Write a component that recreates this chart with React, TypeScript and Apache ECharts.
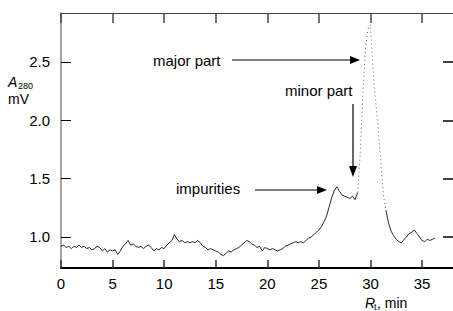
import React, { useEffect, useRef } from "react";
import * as echarts from "echarts";

// Retention time sampling (min): start and step of the recorded trace
const rtStart = 0;
const rtStep = 0.25;

// A280 (mV), one value per 0.25 min from 0 to 36.25 min
const absorbance: number[] = [
  0.92, 0.93, 0.91, 0.92, 0.90, 0.92, 0.91, 0.93, 0.91, 0.92, // 0 - 2.25
  0.90, 0.91, 0.89, 0.90, 0.92, 0.91, 0.88, 0.90, 0.87, 0.89, // 2.5 - 4.75
  0.88, 0.89, 0.85, 0.88, 0.92, 0.94, 0.97, 0.93, 0.94, 0.92, // 5 - 7.25
  0.91, 0.92, 0.90, 0.92, 0.93, 0.91, 0.88, 0.90, 0.89, 0.91, // 7.5 - 9.75
  0.90, 0.93, 0.95, 0.97, 1.02, 0.98, 0.96, 0.97, 0.95, 0.96, // 10 - 12.25
  0.95, 0.96, 0.95, 0.97, 0.95, 0.92, 0.91, 0.89, 0.90, 0.89, // 12.5 - 14.75
  0.88, 0.87, 0.85, 0.84, 0.86, 0.88, 0.87, 0.89, 0.90, 0.91, // 15 - 17.25
  0.93, 0.95, 0.97, 0.96, 0.94, 0.93, 0.91, 0.92, 0.88, 0.91, // 17.5 - 19.75
  0.90, 0.89, 0.90, 0.89, 0.88, 0.89, 0.90, 0.92, 0.93, 0.94, // 20 - 22.25
  0.95, 0.96, 0.95, 0.96, 0.95, 0.97, 0.99, 1.00, 1.02, 1.04, // 22.5 - 24.75
  1.06, 1.09, 1.13, 1.18, 1.26, 1.34, 1.40, 1.43, 1.39, 1.36, // 25 - 27.25
  1.35, 1.34, 1.33, 1.35, 1.32, 1.38, 1.70, 2.20, 2.60, 2.78, // 27.5 - 29.75
  2.82, 2.42, 2.17, 1.92, 1.65, 1.36, 1.23, 1.12, 1.05, 1.01, // 30 - 32.25
  0.98, 0.96, 0.95, 0.98, 1.00, 1.03, 1.04, 1.06, 1.03, 1.00, // 32.5 - 34.75
  0.97, 0.96, 0.98, 0.97, 0.98, 0.99,                         // 35 - 36.25
];

// Steep main-peak segment (drawn as a faint dotted trace in the original)
const peakFrom = 28.75;
const peakTo = 31.5;

const xTicks = [0, 5, 10, 15, 20, 25, 30, 35];
const yTicks = [1.0, 1.5, 2.0, 2.5];
const xMin = 0;
const xMax = 38;
const yMin = 0.734;
const yMax = 2.92;

const FONT = "'Liberation Sans', Arial, sans-serif";

export default function App() {
  const ref = useRef<HTMLDivElement>(null);

  useEffect(() => {
    if (!ref.current) return;
    const chart = echarts.init(ref.current, null, { renderer: "svg" });

    const points = absorbance.map((v, i) => [rtStart + i * rtStep, v]);
    const solidData = points.map((p) =>
      p[0] > peakFrom && p[0] < peakTo ? [p[0], null] : p
    );
    const dottedData = points.filter((p) => p[0] >= peakFrom && p[0] <= peakTo);

    const textStyle = (extra: any) => ({
      fontFamily: FONT,
      fill: "#000",
      ...extra,
    });

    chart.setOption({
      animation: false,
      backgroundColor: "#fff",
      grid: { left: 61, right: -4, top: 13, bottom: 43, containLabel: false },
      xAxis: [
        {
          type: "value",
          position: "bottom",
          min: xMin,
          max: xMax,
          axisLine: { show: true, lineStyle: { color: "#000", width: 2 } },
          axisTick: {
            show: true,
            inside: true,
            length: 8,
            customValues: xTicks,
            lineStyle: { color: "#333", width: 1.5 },
          },
          axisLabel: {
            show: true,
            customValues: xTicks,
            margin: 8,
            fontSize: 15,
            fontFamily: FONT,
            color: "#000",
          },
          splitLine: { show: false },
        },
        {
          type: "value",
          position: "top",
          min: xMin,
          max: xMax,
          axisLine: { show: true, onZero: false, lineStyle: { color: "#444", width: 1 } },
          axisTick: {
            show: true,
            inside: true,
            length: 10,
            customValues: xTicks,
            lineStyle: { color: "#444", width: 1.5 },
          },
          axisLabel: { show: false },
          splitLine: { show: false },
        },
      ],
      yAxis: [
        {
          type: "value",
          position: "left",
          min: yMin,
          max: yMax,
          axisLine: { show: true, onZero: false, lineStyle: { color: "#888", width: 1.5 } },
          axisTick: {
            show: true,
            inside: true,
            length: 10,
            customValues: yTicks,
            lineStyle: { color: "#000", width: 1 },
          },
          axisLabel: {
            show: true,
            customValues: yTicks,
            margin: 11,
            fontSize: 15,
            fontFamily: FONT,
            color: "#000",
            formatter: (v: number) => v.toFixed(1),
          },
          splitLine: { show: false },
        },
        {
          type: "value",
          position: "right",
          min: yMin,
          max: yMax,
          axisLine: { show: true, onZero: false, lineStyle: { color: "#444", width: 1 } },
          axisTick: {
            show: true,
            inside: true,
            length: 10,
            customValues: yTicks,
            lineStyle: { color: "#000", width: 1.5 },
          },
          axisLabel: { show: false },
          splitLine: { show: false },
        },
      ],
      series: [
        {
          type: "line",
          xAxisIndex: 0,
          yAxisIndex: 0,
          data: solidData,
          showSymbol: false,
          connectNulls: false,
          lineStyle: { color: "#111", width: 0.9 },
        },
        {
          type: "line",
          xAxisIndex: 0,
          yAxisIndex: 0,
          data: dottedData,
          showSymbol: false,
          lineStyle: { color: "#666", width: 1, type: [1, 3] },
        },
      ],
      graphic: [
        // y-axis title
        { type: "text", x: 8, y: 82, style: textStyle({ text: "A", fontSize: 14, fontStyle: "italic", verticalAlign: "middle" }) },
        { type: "text", x: 18, y: 86, style: textStyle({ text: "280", fontSize: 9, verticalAlign: "middle" }) },
        { type: "text", x: 8, y: 99, style: textStyle({ text: "mV", fontSize: 14, verticalAlign: "middle" }) },
        // x-axis title
        { type: "text", x: 365, y: 303, style: textStyle({ text: "R", fontSize: 14, fontStyle: "italic", verticalAlign: "middle" }) },
        { type: "text", x: 374, y: 307, style: textStyle({ text: "t", fontSize: 9, verticalAlign: "middle" }) },
        { type: "text", x: 377, y: 303, style: textStyle({ text: ", min", fontSize: 14, verticalAlign: "middle" }) },
        // major part annotation
        { type: "text", x: 153, y: 60, style: textStyle({ text: "major part", fontSize: 15, verticalAlign: "middle" }) },
        { type: "line", shape: { x1: 232, y1: 60, x2: 351, y2: 60 }, style: { stroke: "#000", lineWidth: 1.2 } },
        { type: "polygon", shape: { points: [[350, 56], [360, 60], [350, 64]] }, style: { fill: "#000" } },
        // minor part annotation
        { type: "text", x: 285, y: 90, style: textStyle({ text: "minor part", fontSize: 15, verticalAlign: "middle" }) },
        { type: "line", shape: { x1: 353, y1: 104, x2: 353, y2: 168 }, style: { stroke: "#000", lineWidth: 1.2 } },
        { type: "polygon", shape: { points: [[349, 166], [353, 177], [357, 166]] }, style: { fill: "#000" } },
        // impurities annotation
        { type: "text", x: 176, y: 188, style: textStyle({ text: "impurities", fontSize: 15, verticalAlign: "middle" }) },
        { type: "line", shape: { x1: 255, y1: 190, x2: 318, y2: 190 }, style: { stroke: "#000", lineWidth: 1.2 } },
        { type: "polygon", shape: { points: [[317, 186], [327, 190], [317, 194]] }, style: { fill: "#000" } },
      ],
    });

    return () => chart.dispose();
  }, []);

  return (
    <div
      ref={ref}
      style={{ position: "fixed", left: 0, top: 0, width: 453, height: 311, background: "#fff" }}
    />
  );
}
